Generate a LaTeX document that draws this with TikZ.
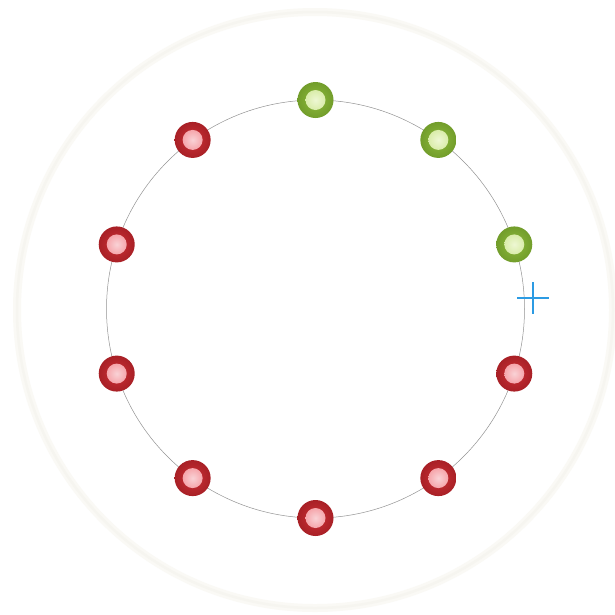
\documentclass[tikz,border=0pt]{standalone}
\usetikzlibrary{calc}
\definecolor{redouter}{HTML}{CC3036}
\definecolor{redouterdark}{HTML}{A82026}
\definecolor{redinner}{HTML}{F5B4BA}
\definecolor{greenouter}{HTML}{8DBA3C}
\definecolor{greenouterdark}{HTML}{729D2B}
\definecolor{greeninner}{HTML}{E2F2B6}
\definecolor{crossblue}{HTML}{2C9BE3}
\definecolor{faintring}{HTML}{FAF9F5}
\definecolor{faintringcore}{HTML}{F6F5F0}
\tikzset{
  reddot/.style={circle, minimum size=36pt, inner sep=0pt, draw=none,
    inner color=redouter, outer color=redouterdark},
  greendot/.style={circle, minimum size=36pt, inner sep=0pt, draw=none,
    inner color=greenouter, outer color=greenouterdark},
  redcore/.style={circle, minimum size=20pt, inner sep=0pt, draw=none,
    inner color=white!40!redinner, outer color=redinner!92!red},
  greencore/.style={circle, minimum size=20pt, inner sep=0pt, draw=none,
    inner color=white!40!greeninner, outer color=greeninner!90!greenouter},
}
\begin{document}
\begin{tikzpicture}[x=1pt,y=-1pt]
\useasboundingbox (0,0) rectangle (615,614);
\fill[white] (0,0) rectangle (615,614);
% faint outer ring
\draw[faintring, line width=8pt] (315,310) circle (298pt);
\draw[faintringcore, line width=2.5pt] (315,310) circle (298pt);
% orbit circle
\coordinate (c) at (315.5,309);
\draw[gray!85, line width=0.5pt] (c) circle (209pt);
% dots
\foreach \i/\a/\s in {1/90/green,2/54/green,3/18/green,4/-18/red,5/-54/red,6/-90/red,7/-126/red,8/-162/red,9/162/red,10/126/red}{
  \node[\s dot] (d\i) at ($(c)+({209*cos(\a)},{-209*sin(\a)})$) {};
  \node[\s core] (k\i) at (d\i.center) {};
}
% blue cross
\coordinate (p) at (533,298);
\draw[crossblue, line width=1.6pt] ($(p)+(-16,0)$) -- ($(p)+(16,0)$);
\draw[crossblue, line width=1.6pt] ($(p)+(0,-16)$) -- ($(p)+(0,16)$);
\end{tikzpicture}
\end{document}
